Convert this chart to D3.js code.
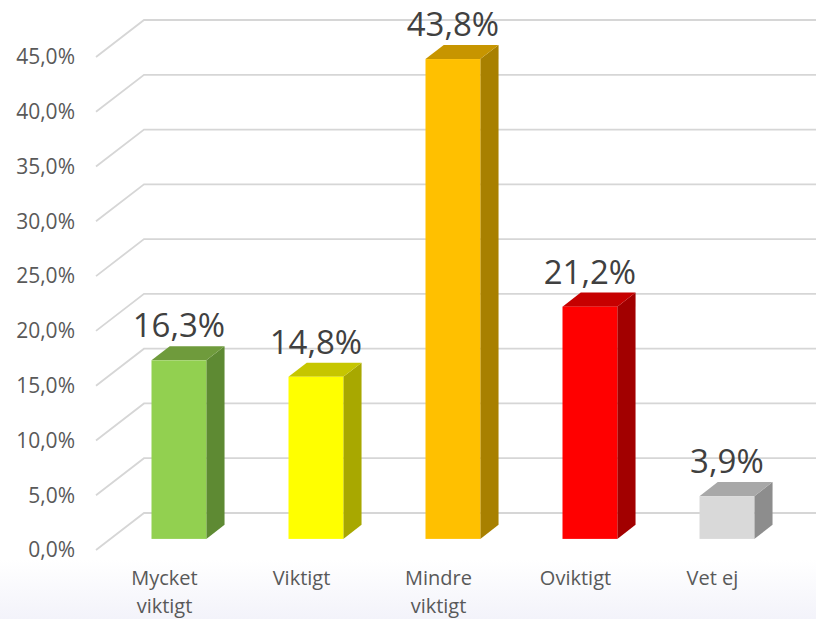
<!DOCTYPE html>
<html>
<head>
<meta charset="utf-8">
<script src="https://cdn.jsdelivr.net/npm/d3@7"></script>
<style>
  body { margin: 0; background: #fff; }
  svg { display: block; font-family: "Open Sans", sans-serif; }
</style>
</head>
<body>
<div id="chart"></div>
<script>
// Data
const categories = [["Mycket", "viktigt"], ["Viktigt"], ["Mindre", "viktigt"], ["Oviktigt"], ["Vet ej"]];
const values = [16.3, 14.8, 43.8, 21.2, 3.9];
const tickValues = [0, 5, 10, 15, 20, 25, 30, 35, 40, 45];

const frontColors = ["#92d050", "#ffff00", "#ffc000", "#ff0000", "#d9d9d9"];
const topColors = ["#6f9b3c", "#c6c600", "#c79500", "#c60000", "#a8a8a8"];
const sideColors = ["#5e8a33", "#a8a800", "#a88000", "#a20000", "#8d8d8d"];

const fmt = v => v.toFixed(1).replace(".", ",") + "%";

function draw() {
  const width = 816, height = 619;
  // depth offsets (front plane -> back wall)
  const depthX = 48, depthY = 37;
  const barD0 = 0.3, barD1 = 0.68;

  const svg = d3.select("#chart")
    .append("svg")
    .attr("width", width)
    .attr("height", height);

  // light band at the bottom
  const grad = svg.append("defs").append("linearGradient")
    .attr("id", "bottomFade")
    .attr("x1", 0).attr("y1", 0).attr("x2", 0).attr("y2", 1);
  grad.append("stop").attr("offset", "0%").attr("stop-color", "#ffffff");
  grad.append("stop").attr("offset", "100%").attr("stop-color", "#f3f3fa");
  svg.append("rect")
    .attr("x", 0).attr("y", 560)
    .attr("width", width).attr("height", height - 560)
    .attr("fill", "url(#bottomFade)");

  // Scales (front plane)
  const xScale = d3.scaleBand()
    .domain(d3.range(values.length))
    .range([96, 96 + 5 * 137])
    .paddingInner(0.6)
    .paddingOuter(0.3);

  const yScale = d3.scaleLinear()
    .domain([0, 45])
    .range([550, 57]);

  const px = (x, d) => x + d * depthX;
  const py = (v, d) => yScale(v) - d * depthY;

  // Gridlines: floor diagonal + back wall
  const grid = svg.append("g")
    .attr("fill", "none")
    .attr("stroke", "#d6d6d6")
    .attr("stroke-width", 1.8);

  grid.selectAll("path")
    .data(tickValues)
    .join("path")
    .attr("d", t => `M${px(96, 0)},${py(t, 0)} L${px(96, 1)},${py(t, 1)} L${width},${py(t, 1)}`);

  // Y axis labels
  svg.append("g")
    .selectAll("text")
    .data(tickValues)
    .join("text")
    .attr("x", 75)
    .attr("y", t => yScale(t))
    .attr("dy", "0.35em")
    .attr("text-anchor", "end")
    .attr("font-size", 21)
    .attr("fill", "#595959")
    .text(t => fmt(t));

  // Bars
  const bars = svg.append("g")
    .selectAll("g")
    .data(values)
    .join("g");

  const bw = xScale.bandwidth();

  // side face
  bars.append("path")
    .attr("fill", (d, i) => sideColors[i])
    .attr("d", (d, i) => {
      const x = xScale(i) + bw;
      return `M${px(x, barD0)},${py(0, barD0)} L${px(x, barD1)},${py(0, barD1)}
              L${px(x, barD1)},${py(d, barD1)} L${px(x, barD0)},${py(d, barD0)} Z`;
    });

  // top face
  bars.append("path")
    .attr("fill", (d, i) => topColors[i])
    .attr("d", (d, i) => {
      const x = xScale(i);
      return `M${px(x, barD0)},${py(d, barD0)} L${px(x + bw, barD0)},${py(d, barD0)}
              L${px(x + bw, barD1)},${py(d, barD1)} L${px(x, barD1)},${py(d, barD1)} Z`;
    });

  // front face
  bars.append("rect")
    .attr("fill", (d, i) => frontColors[i])
    .attr("x", (d, i) => px(xScale(i), barD0))
    .attr("y", d => py(d, barD0))
    .attr("width", bw)
    .attr("height", d => py(0, barD0) - py(d, barD0));

  // value labels
  bars.append("text")
    .attr("x", (d, i) => px(xScale(i) + bw / 2, barD0))
    .attr("y", d => py(d, barD1) - 9)
    .attr("text-anchor", "middle")
    .attr("font-size", 33)
    .attr("fill", "#404040")
    .text(d => fmt(d));

  // Category labels
  const cat = svg.append("g")
    .selectAll("text")
    .data(categories)
    .join("text")
    .attr("x", (d, i) => xScale(i) + bw / 2)
    .attr("y", 585)
    .attr("text-anchor", "middle")
    .attr("font-size", 20)
    .attr("fill", "#595959");

  cat.selectAll("tspan")
    .data(d => d)
    .join("tspan")
    .attr("x", function () { return d3.select(this.parentNode).attr("x"); })
    .attr("dy", (d, j) => j === 0 ? 0 : 27.5)
    .text(d => d);
}

draw();
</script>
</body>
</html>
